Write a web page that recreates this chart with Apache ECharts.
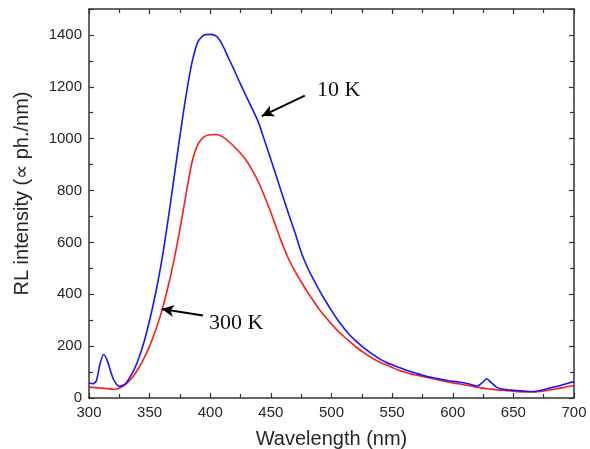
<!DOCTYPE html>
<html>
<head>
<meta charset="utf-8">
<script src="https://cdn.jsdelivr.net/npm/echarts@6/dist/echarts.min.js"></script>
<style>html,body{margin:0;padding:0;background:#fff}#c{width:590px;height:449px}</style>
</head>
<body>
<div id="c"></div>
<script>
// 10 K spectrum (blue)
var wl10K = [300,303,306,309,312,315,318,321,325,330,335,340,345,350,355,360,365,370,375,380,385,390,395,400,405,410,415,420,425,430,435,440,445,450,455,460,465,470,475,480,485,490,495,500,505,510,515,520,525,530,535,540,545,550,555,560,565,570,575,580,585,590,595,600,605,610,615,620,625,628,632,636,640,645,650,655,660,665,670,675,680,685,690,695,700];
var int10K = [58,55,65,130,168,145,100,65,45,55,90,140,210,300,405,530,680,845,1010,1165,1295,1375,1400,1402,1395,1362,1312,1262,1210,1160,1112,1060,990,920,848,776,705,636,562,505,458,415,375,337,302,271,243,220,200,182,165,150,138,128,119,110,102,95,88,82,77,72,68,64,62,58,52,46,62,74,58,42,35,32,30,28,26,25,27,32,38,44,50,57,64];
// 300 K spectrum (red)
var wl300K = [300,305,310,315,320,325,330,335,340,345,350,355,360,365,370,375,380,385,390,395,400,405,410,415,420,425,430,435,440,445,450,455,460,465,470,475,480,485,490,495,500,505,510,515,520,525,530,535,540,545,550,555,560,565,570,575,580,585,590,595,600,605,610,615,620,625,630,635,640,645,650,655,660,665,670,675,680,685,690,695,700];
var int300K = [42,40,38,36,34,38,52,75,108,150,200,262,335,425,530,650,785,910,980,1008,1015,1016,1008,990,968,944,914,875,830,775,715,650,587,532,487,448,410,375,341,312,285,260,238,217,198,180,165,150,138,128,118,108,100,93,88,83,78,73,68,63,58,55,50,46,42,38,35,32,30,28,26,24,23,23,24,27,31,35,39,44,48];
// annotations: label, arrow tail, arrow tip, label anchor (data units)
var annoLabels = ["10 K", "300 K"];
var annoTail = [[478, 1166], [394, 318]];
var annoTip = [[442.5, 1087], [360, 343]];
var annoText = [[488, 1185], [399, 290]];

var xTicks = {min: 300, max: 700, interval: 50};
var yTicks = {min: 0, max: 1500, interval: 200};

function pairs(xs, ys){ return xs.map(function(x,i){ return [x, ys[i]]; }); }

var chart = echarts.init(document.getElementById('c'), null, {renderer:'canvas'});
var axisCol = '#333';
var tickLabel = {color:'#262626', fontFamily:'Liberation Sans, Arial, sans-serif', fontSize:15,
  formatter:function(v){ return String(v); }};
function xAx(pos, show){
  return {type:'value', position:pos, min:xTicks.min, max:xTicks.max, interval:xTicks.interval,
    axisLine:{show:true, onZero:false, lineStyle:{color:axisCol, width:1.5}},
    axisTick:{show:true, inside:true, length:5, lineStyle:{color:axisCol, width:1.2}},
    minorTick:{show:true, splitNumber:2, length:4, lineStyle:{color:axisCol, width:1.2}},
    splitLine:{show:false},
    axisLabel:Object.assign({show:show, margin:7}, tickLabel),
    name: show ? 'Wavelength (nm)' : '', nameLocation:'middle', nameGap:31,
    nameTextStyle:{color:'#262626', fontFamily:'Liberation Sans, Arial, sans-serif', fontSize:20}};
}
function yAx(pos, show){
  return {type:'value', position:pos, min:yTicks.min, max:yTicks.max, interval:yTicks.interval,
    axisLine:{show:true, onZero:false, lineStyle:{color:axisCol, width:1.5}},
    axisTick:{show:true, inside:true, length:5, lineStyle:{color:axisCol, width:1.2}},
    minorTick:{show:true, splitNumber:2, length:4, lineStyle:{color:axisCol, width:1.2}},
    splitLine:{show:false},
    axisLabel:Object.assign({show:show, margin:7, showMaxLabel:false}, tickLabel),
    name: show ? 'RL intensity (\u221D ph./nm)' : '', nameLocation:'middle', nameGap:57, nameRotate:90,
    nameTextStyle:{color:'#262626', fontFamily:'Liberation Sans, Arial, sans-serif', fontSize:20,
      padding:[0,0,0,20]}};
}

var arrowLines = annoTail.map(function(t,i){
  return [{coord:t}, {coord:annoTip[i]}];
});
var textPoints = annoText.map(function(p,i){
  return {coord:p, value:annoLabels[i]};
});

chart.setOption({
  animation:false,
  backgroundColor:'#fff',
  grid:{left:89, right:16, top:9, bottom:51, containLabel:false, outerBoundsMode:'none'},
  xAxis:[xAx('bottom', true), xAx('top', false)],
  yAxis:[yAx('left', true), yAx('right', false)],
  series:[
    {name:'10 K', type:'line', data:pairs(wl10K, int10K), showSymbol:false, smooth:0.25,
     lineStyle:{color:'#1515ff', width:1.6}, itemStyle:{color:'#1515ff'}, z:3},
    {name:'300 K', type:'line', data:pairs(wl300K, int300K), showSymbol:false, smooth:0.25,
     lineStyle:{color:'#ff1a1a', width:1.6}, itemStyle:{color:'#ff1a1a'}, z:2,
     markLine:{silent:true, symbol:['none','arrow'], symbolSize:[9,12], label:{show:false},
       lineStyle:{color:'#000', width:2, type:'solid'}, data:arrowLines},
     markPoint:{silent:true, symbol:'circle', symbolSize:0,
       label:{show:true, position:'right', distance:0, formatter:function(p){return p.value;},
         color:'#111', fontFamily:'Liberation Serif, Times New Roman, serif', fontSize:22},
       data:textPoints}}
  ]
});
</script>
</body>
</html>
